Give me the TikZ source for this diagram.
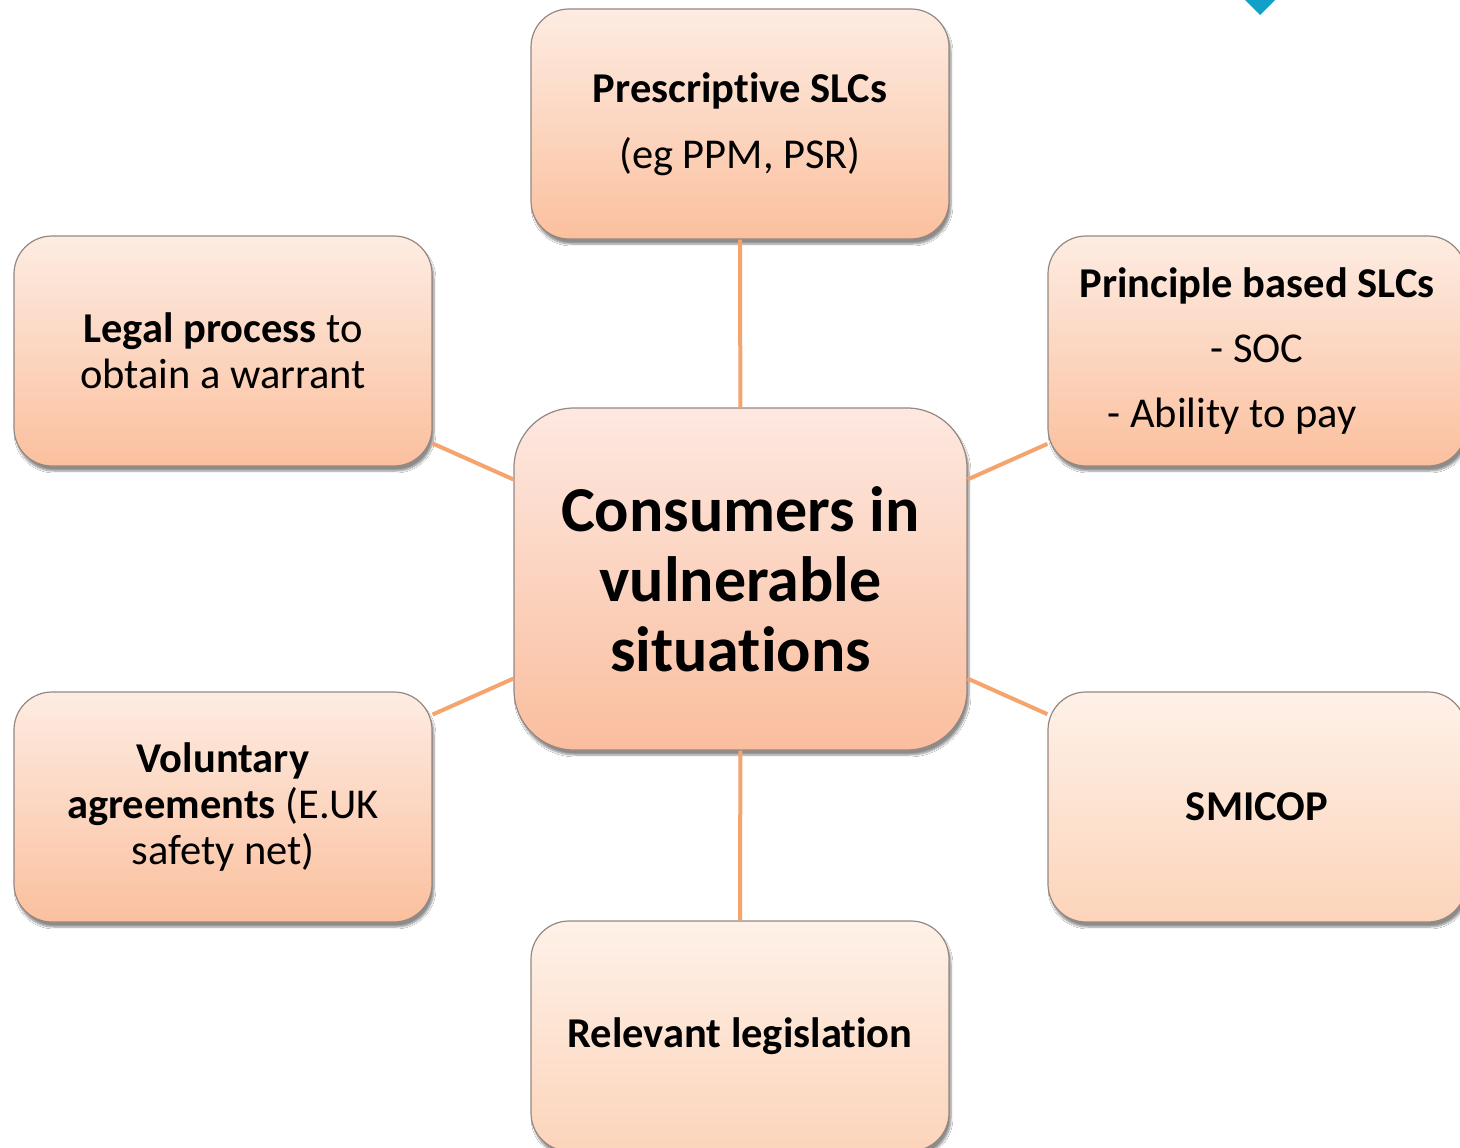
\documentclass[tikz,border=0pt]{standalone}
\usepackage{fontspec}
\setmainfont{Carlito}[Ligatures={NoCommon}]
\usetikzlibrary{shadows.blur}

\definecolor{boxtop}{RGB}{253,236,226}
\definecolor{boxbot}{RGB}{251,192,158}
\definecolor{lowtop}{RGB}{254,241,232}
\definecolor{lowbot}{RGB}{252,212,186}
\definecolor{midtop}{RGB}{253,232,224}
\definecolor{midbot}{RGB}{250,190,158}
\definecolor{boxline}{RGB}{150,135,128}
\definecolor{linkline}{RGB}{245,164,110}
\definecolor{markblue}{RGB}{16,160,200}

\tikzset{
  card/.style={draw=boxline, line width=1.2pt, rounded corners=38pt,
    minimum width=418pt, minimum height=230pt, align=center,
    top color=boxtop, bottom color=boxbot,
    blur shadow={shadow xshift=2pt, shadow yshift=-5pt, shadow opacity=45, shadow blur steps=6},
    font=\fontsize{42.5}{46}\selectfont},
  lowcard/.style={card, top color=lowtop, bottom color=lowbot},
  hub/.style={card, rounded corners=60pt, minimum width=453pt, minimum height=342pt,
    top color=midtop, bottom color=midbot,
    font=\bfseries\fontsize{64}{70}\selectfont},
  link/.style={draw=linkline, line width=4pt}
}

\begin{document}
\begin{tikzpicture}[x=1pt, y=-1pt]
\useasboundingbox (0,0) rectangle (1460,1148);
\clip (0,0) rectangle (1460,1148);
\fill[white] (0,0) rectangle (1460,1148);

% corner mark
\fill[markblue] (1243,-2) -- (1260,15) -- (1277,-2) -- (1260,-19) -- cycle;

% central topic
\node[hub] (hub) at (740.5,579) {Consumers in\\vulnerable\\situations};

% surrounding topics
\node[card, font=\fontsize{42.5}{66}\selectfont] (presc) at (740,124)
  {\textbf{Prescriptive SLCs}\\(eg PPM, PSR)};
\node[card] (legal) at (223,351)
  {\textbf{Legal process} to\\obtain a warrant};
\node[card, font=\fontsize{42.5}{65}\selectfont] (princ) at (1257,351)
  {\textbf{Principle based SLCs}\\- SOC\\\hspace*{-50pt}- Ability to pay};
\node[card] (volun) at (223,807)
  {\textbf{Voluntary}\\\textbf{agreements} (E.UK\\safety net)};
\node[lowcard] (smicop) at (1257,807) {\textbf{SMICOP}};
\node[lowcard] (legis) at (740,1036) {\textbf{Relevant legislation}};

% connectors
\draw[link] (presc) -- (hub);
\draw[link] (legis) -- (hub);
\draw[link] (legal) -- (hub);
\draw[link] (princ) -- (hub);
\draw[link] (volun) -- (hub);
\draw[link] (smicop) -- (hub);
\end{tikzpicture}
\end{document}
